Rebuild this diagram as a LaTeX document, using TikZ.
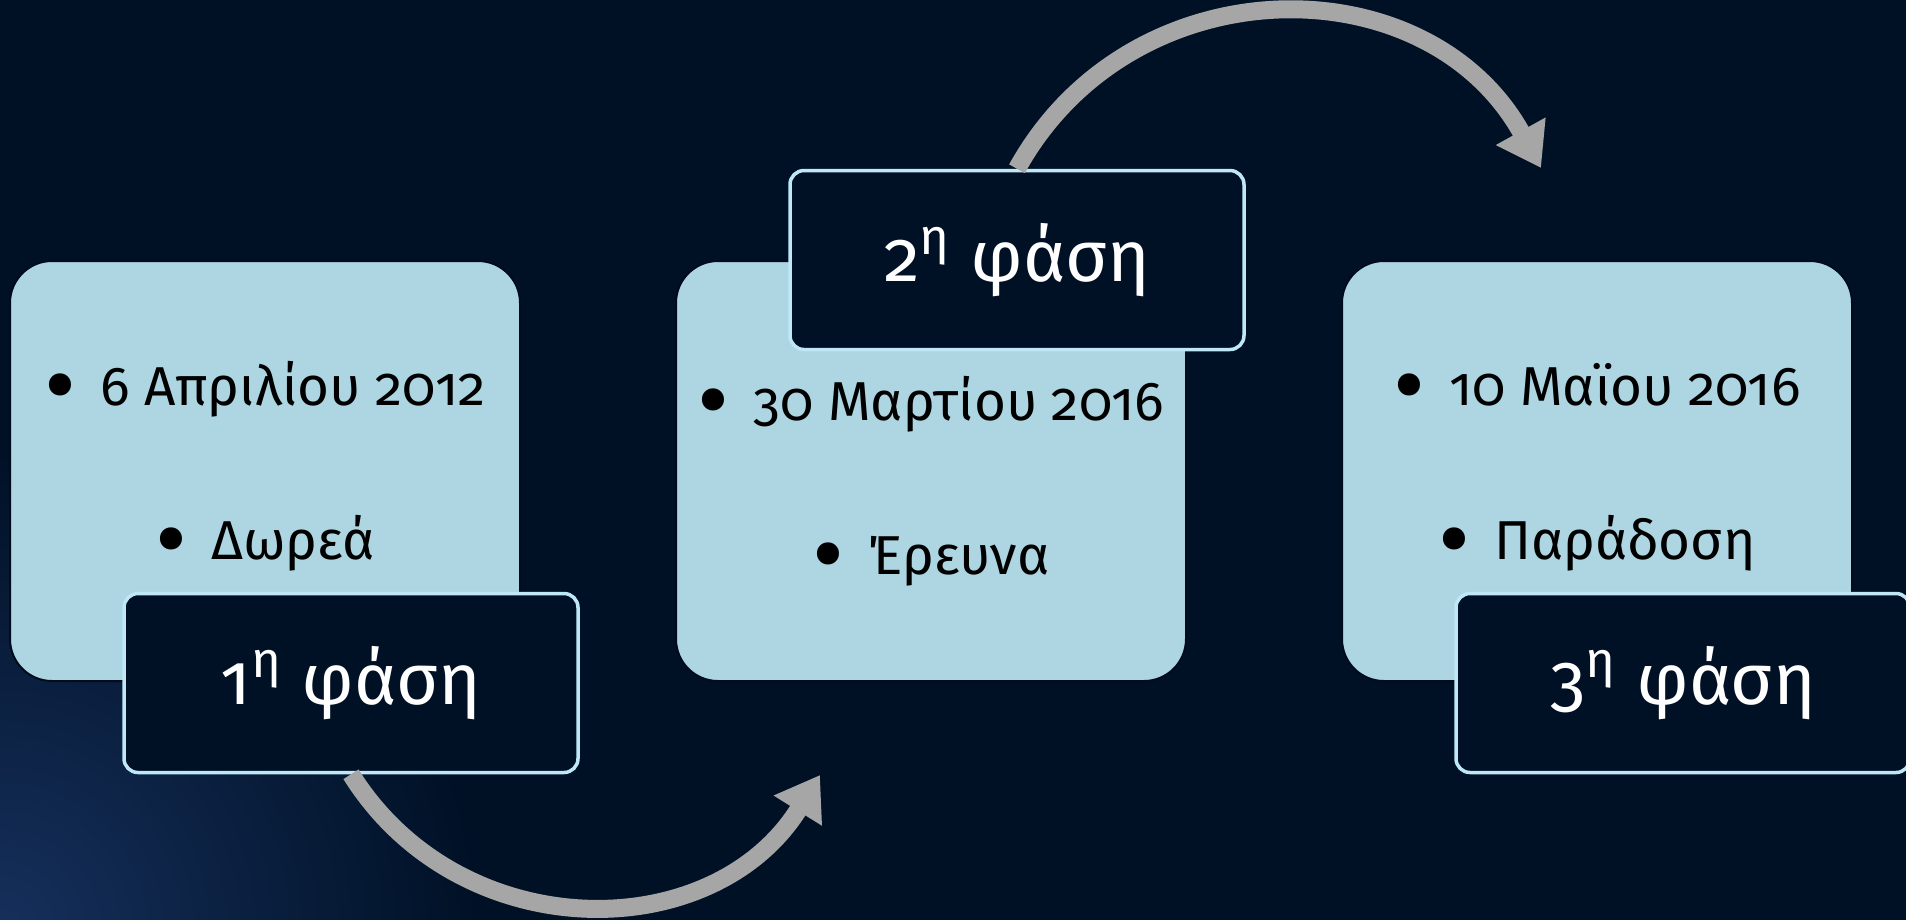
\documentclass[tikz,border=0pt]{standalone}
\usepackage{fontspec}
\setmainfont{Fira Sans}[Numbers=OldStyle]
\usepackage{tikz}
\usetikzlibrary{positioning}
\usetikzlibrary{arrows.meta}

\definecolor{bgnavy}{RGB}{0,17,38}
\definecolor{glowblue}{RGB}{22,48,92}
\definecolor{boxblue}{RGB}{173,213,226}
\definecolor{edgecyan}{RGB}{190,232,246}
\definecolor{arrowgray}{RGB}{166,166,166}

% big round bullet and two centred lines
\newcommand{\bul}{\raisebox{-1.3mm}{\fontsize{28}{28}\selectfont•}\hspace{2.4mm}}
\newcommand{\stagetext}[3]{\raisebox{#1}[\height][\depth]{\begin{tabular}{c}
    \bul #2 \\
    \bul #3
  \end{tabular}}}

\begin{document}
\begin{tikzpicture}[x=0.1mm,y=-0.1mm,node distance=66.6mm,
  infobox/.style={fill=boxblue,draw=bgnavy!70!black,line width=0.2mm,rounded corners=4.2mm,minimum width=51mm,minimum height=42mm,inner sep=0pt,font=\fontsize{15.6}{44}\selectfont},
  phasebox/.style={fill=bgnavy,draw=edgecyan,line width=0.35mm,rounded corners=1.4mm,minimum width=45.4mm,minimum height=17.9mm,inner sep=0pt,text=white,font=\fontsize{20.5}{24}\selectfont},
  bendarrow/.style={draw=arrowgray,line width=1.8mm,-{Triangle[width=5.4mm,length=4.2mm]}}]
  % background
  \useasboundingbox (0,0) rectangle (1906,919);
  \fill[bgnavy] (-20,-20) rectangle (1926,939);
  \begin{scope}
    \clip (-20,-20) rectangle (1926,939);
    \shade[inner color=glowblue,outer color=bgnavy] (0,930) circle (480);
  \end{scope}
  % boxes
  \node[infobox](stage1) at (265,471) {\stagetext{1.95mm}{6 Απριλίου 2012}{Δωρεά}};
  \node[infobox](stage2) [right of=stage1] {\stagetext{0.45mm}{30 Μαρτίου 2016}{Έρευνα}};
  \node[infobox](stage3) [right of=stage2] {\stagetext{1.95mm}{10 Μαϊου 2016}{Παράδοση}};
  % phase labels
  \node[phasebox,xshift=8.6mm,yshift=-21.2mm](phase1) at (stage1) {1\textsuperscript{η} φάση};
  \node[phasebox,xshift=8.6mm,yshift=21.1mm](phase2) at (stage2) {2\textsuperscript{η} φάση};
  \node[phasebox,xshift=8.6mm,yshift=-21.2mm](phase3) at (stage3) {3\textsuperscript{η} φάση};
  % arrows
  \coordinate (tip1) at (820,775);
  \coordinate (tip2) at (1541,168);
  \draw[bendarrow] (phase1.south) .. controls +(108,173) and +(-108,173) .. (tip1);
  \draw[bendarrow] (phase2.north) .. controls +(114,-206) and +(-114,-206) .. (tip2);
\end{tikzpicture}
\end{document}
